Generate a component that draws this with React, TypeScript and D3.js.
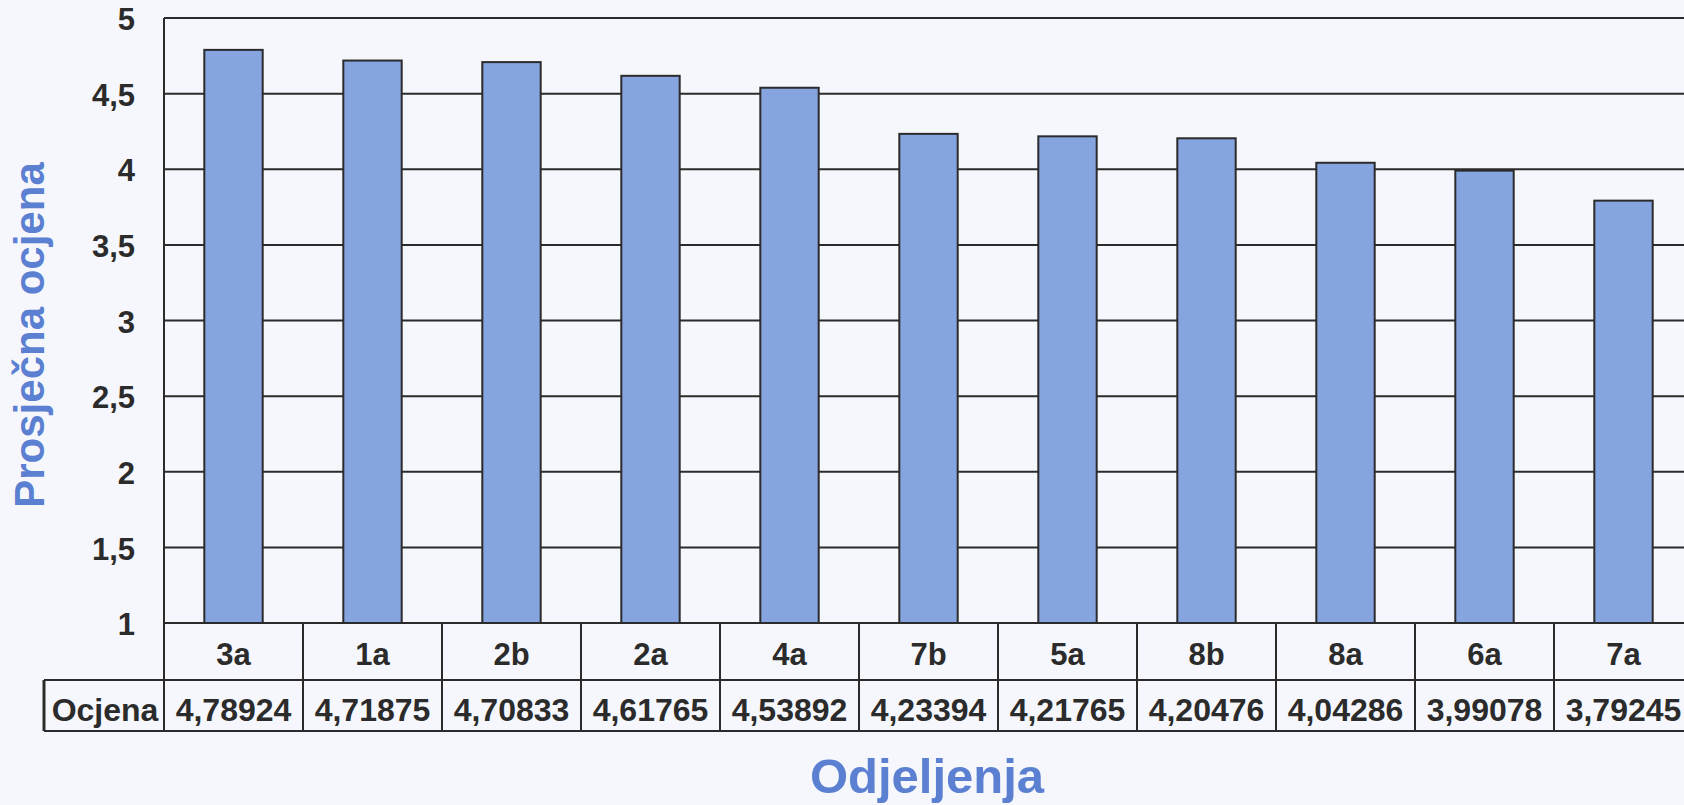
import React from "react";
import * as d3 from "d3";

// class averages, sorted as in the printed table
const categories = ["3a", "1a", "2b", "2a", "4a", "7b", "5a", "8b", "8a", "6a", "7a"];
const values = [4.78924, 4.71875, 4.70833, 4.61765, 4.53892, 4.23394, 4.21765, 4.20476, 4.04286, 3.99078, 3.79245];
const valueLabels = ["4,78924", "4,71875", "4,70833", "4,61765", "4,53892", "4,23394", "4,21765", "4,20476", "4,04286", "3,99078", "3,79245"];
const yTicks = [1, 1.5, 2, 2.5, 3, 3.5, 4, 4.5, 5];
const seriesName = "Ocjena";
const yTitle = "Prosječna ocjena";
const xTitle = "Odjeljenja";

const W = 1684;
const H = 805;
const left = 164;
const step = 139;
const top = 18;
const bottom = 623;
const row1 = 680;
const row2 = 731;

const font = "'Liberation Sans', Arial, sans-serif";
const ink = "#2b2b2b";
const blue = "#5b7fd1";

export default function App() {
  const x = d3
    .scaleBand<string>()
    .domain(categories)
    .range([left, left + step * categories.length])
    .paddingInner(0.58)
    .paddingOuter(0.29);
  const y = d3.scaleLinear().domain([1, 5]).range([bottom, top]);
  const fmt = (v: number) => String(v).replace(".", ",");
  const colX = (i: number) => left + i * step;

  return (
    <svg
      width={W}
      height={H}
      style={{ position: "absolute", left: 0, top: 0, background: "#f5f7fc" }}
      fontFamily={font}
      fontWeight="bold"
    >
      {/* gridlines */}
      {yTicks.map((t) => (
        <line key={t} x1={left} x2={W} y1={y(t)} y2={y(t)} stroke={ink} strokeWidth={2} />
      ))}
      <line x1={left} x2={left} y1={y(5)} y2={row2} stroke={ink} strokeWidth={2} />

      {/* y tick labels */}
      {yTicks.map((t) => (
        <text key={t} x={135} y={y(t) + 1} dy="0.36em" textAnchor="end" fontSize={31} fill={ink}>
          {fmt(t)}
        </text>
      ))}

      {/* bars */}
      {categories.map((c, i) => (
        <rect
          key={c}
          x={x(c)}
          y={y(values[i])}
          width={x.bandwidth()}
          height={y(1) - y(values[i])}
          fill="#86a4e0"
          stroke={ink}
          strokeWidth={2}
        />
      ))}

      {/* data table */}
      <line x1={44} x2={W} y1={row1} y2={row1} stroke={ink} strokeWidth={2} />
      <line x1={44} x2={W} y1={row2} y2={row2} stroke={ink} strokeWidth={2} />
      <line x1={44} x2={44} y1={row1} y2={row2} stroke={ink} strokeWidth={3} />
      {categories.map((c, i) => (
        <line key={c} x1={colX(i + 1)} x2={colX(i + 1)} y1={bottom} y2={row2} stroke={ink} strokeWidth={2} />
      ))}
      {categories.map((c, i) => (
        <text key={c} x={colX(i) + step / 2} y={(bottom + row1) / 2 + 2} dy="0.36em" textAnchor="middle" fontSize={31} fill={ink}>
          {c}
        </text>
      ))}
      {valueLabels.map((v, i) => (
        <text key={i} x={colX(i) + step / 2} y={(row1 + row2) / 2 + 4} dy="0.36em" textAnchor="middle" fontSize={32} fill={ink}>
          {v}
        </text>
      ))}
      <text x={(44 + left) / 2 + 1} y={(row1 + row2) / 2 + 4} dy="0.36em" textAnchor="middle" fontSize={32} fill={ink}>
        {seriesName}
      </text>

      {/* axis titles */}
      <text x={927} y={793} textAnchor="middle" fontSize={49} fill={blue}>
        {xTitle}
      </text>
      <text transform="translate(44,335) rotate(-90)" textAnchor="middle" fontSize={42} fill={blue}>
        {yTitle}
      </text>
    </svg>
  );
}
